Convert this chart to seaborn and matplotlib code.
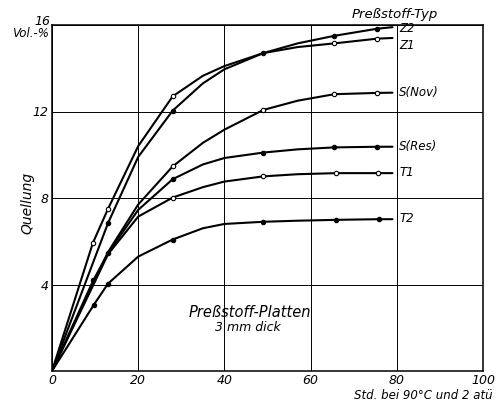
import matplotlib
matplotlib.use("Agg")
import matplotlib.pyplot as plt
import seaborn as sns
import pandas as pd

# ---- data ----
series_names = ["Z2", "Z1", "S(Nov)", "S(Res)", "T1", "T2"]
filled = {"Z2": True, "Z1": False, "S(Nov)": False, "S(Res)": True, "T1": False, "T2": True}

# traced curve points (hours, Vol.-%)
z2_curve_x = [0, 13, 20, 28, 35, 40, 49, 57, 65.5, 75.5, 79]
z2_curve_y = [0, 6.84, 9.9, 12.04, 13.3, 13.95, 14.7, 15.15, 15.5, 15.83, 15.9]
z1_curve_x = [0, 9.5, 13, 20, 28, 35, 40, 49, 57, 65.5, 75.5, 79]
z1_curve_y = [0, 5.93, 7.5, 10.4, 12.7, 13.65, 14.1, 14.7, 14.98, 15.15, 15.37, 15.4]
snov_curve_x = [0, 13, 20, 28, 35, 40, 49, 57, 65.5, 75.5, 79]
snov_curve_y = [0, 5.5, 7.7, 9.46, 10.55, 11.16, 12.07, 12.5, 12.8, 12.86, 12.87]
sres_curve_x = [0, 9.6, 13, 20, 28, 35, 40, 49, 57, 65.5, 75.5, 79]
sres_curve_y = [0, 4.2, 5.45, 7.45, 8.87, 9.55, 9.85, 10.1, 10.25, 10.34, 10.37, 10.37]
t1_curve_x = [0, 13, 20, 28, 35, 40, 49, 57, 66, 75.7, 79]
t1_curve_y = [0, 5.4, 7.14, 8.02, 8.5, 8.76, 9.0, 9.1, 9.15, 9.15, 9.15]
t2_curve_x = [0, 9.7, 13, 20, 28, 35, 40, 49, 57, 66, 75.8, 79]
t2_curve_y = [0, 3.06, 4.04, 5.29, 6.08, 6.6, 6.8, 6.9, 6.95, 6.99, 7.02, 7.02]

# measured points (markers)
z2_pts_x = [13, 28, 49, 65.5, 75.5]
z2_pts_y = [6.84, 12.04, 14.7, 15.5, 15.83]
z1_pts_x = [9.5, 13, 28, 65.5, 75.5]
z1_pts_y = [5.93, 7.5, 12.7, 15.15, 15.37]
snov_pts_x = [28, 49, 65.5, 75.5]
snov_pts_y = [9.46, 12.07, 12.8, 12.86]
sres_pts_x = [9.6, 13, 28, 49, 65.5, 75.5]
sres_pts_y = [4.2, 5.45, 8.87, 10.1, 10.34, 10.37]
t1_pts_x = [28, 49, 66, 75.7]
t1_pts_y = [8.02, 9.0, 9.15, 9.15]
t2_pts_x = [9.7, 13, 28, 49, 66, 75.8]
t2_pts_y = [3.06, 4.04, 6.08, 6.88, 6.99, 7.02]

label_y = {"Z2": 15.83, "Z1": 15.05, "S(Nov)": 12.87, "S(Res)": 10.37, "T1": 9.17, "T2": 7.04}

x_ticks = [0, 20, 40, 60, 80, 100]
y_ticks = [4, 8, 12, 16]

curves = {
    "Z2": (z2_curve_x, z2_curve_y), "Z1": (z1_curve_x, z1_curve_y),
    "S(Nov)": (snov_curve_x, snov_curve_y), "S(Res)": (sres_curve_x, sres_curve_y),
    "T1": (t1_curve_x, t1_curve_y), "T2": (t2_curve_x, t2_curve_y),
}
points = {
    "Z2": (z2_pts_x, z2_pts_y), "Z1": (z1_pts_x, z1_pts_y),
    "S(Nov)": (snov_pts_x, snov_pts_y), "S(Res)": (sres_pts_x, sres_pts_y),
    "T1": (t1_pts_x, t1_pts_y), "T2": (t2_pts_x, t2_pts_y),
}

sns.set_theme(style="white")
plt.rcParams["font.family"] = ["DejaVu Sans"]
plt.rcParams["font.style"] = "italic"
plt.rcParams["text.color"] = "black"
plt.rcParams["xtick.color"] = "black"
plt.rcParams["ytick.color"] = "black"

fig = plt.figure(figsize=(5.04, 4.03), dpi=100)
ax = fig.add_axes([52 / 504, 32 / 403, 431 / 504, 346 / 403])

curve_df = pd.concat([
    pd.DataFrame({"x": curves[n][0], "y": curves[n][1], "s": n}) for n in series_names
])
for n in series_names:
    sub = curve_df[curve_df["s"] == n]
    sns.lineplot(data=sub, x="x", y="y", ax=ax, color="black", lw=1.5,
                 sort=False, estimator=None, legend=False, zorder=3)
    pdf = pd.DataFrame({"x": points[n][0], "y": points[n][1]})
    sns.scatterplot(data=pdf, x="x", y="y", ax=ax, s=10,
                    color="black" if filled[n] else "white",
                    edgecolor="black", linewidth=0.8, legend=False, zorder=4)
    ax.text(80.6, label_y[n], n, fontsize=8.5, va="center", ha="left",
            clip_on=False)

ax.set_xlim(0, 100)
ax.set_ylim(0, 16)
ax.set_xticks(x_ticks)
ax.set_yticks(y_ticks)
ax.set_xticklabels([str(v) for v in x_ticks], fontsize=9)
ax.set_yticklabels([str(v) if v != 16 else "" for v in y_ticks], fontsize=9)
ax.tick_params(axis="both", length=0, pad=2.5)
ax.set_xlabel("")
ax.set_ylabel("")
ax.grid(True, color="black", lw=0.7)
for sp in ax.spines.values():
    sp.set_color("black")
    sp.set_linewidth(1.1)

ax.text(-0.022, 1.01, "16", transform=ax.transAxes, ha="center", va="center", fontsize=9)
ax.text(-0.008, 0.975, "Vol.-%", transform=ax.transAxes, ha="right", va="center", fontsize=8.5)
ax.text(-0.058, 0.486, "Quellung", transform=ax.transAxes, rotation=90,
        ha="center", va="center", fontsize=10)
ax.text(1.023, -0.07, "Std. bei 90°C und 2 atü", transform=ax.transAxes,
        ha="right", va="center", fontsize=8.5)
ax.text(79.6, 16.5, "Preßstoff-Typ", ha="center", va="center", fontsize=9.5, clip_on=False)
ax.text(46, 2.7, "Preßstoff-Platten", ha="center", va="center", fontsize=10.5)
ax.text(45.5, 2.0, "3 mm dick", ha="center", va="center", fontsize=9)

fig.savefig("out.png", dpi=100)
